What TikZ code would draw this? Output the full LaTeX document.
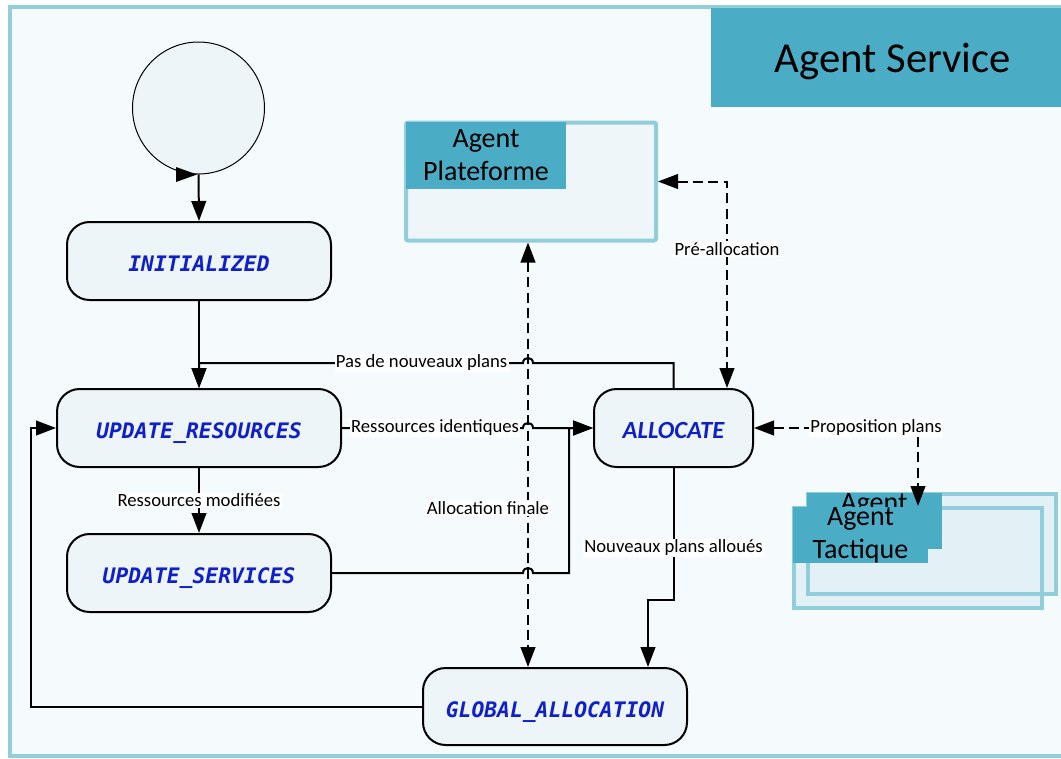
\documentclass[tikz,border=0pt]{standalone}
\usepackage{fontspec}
\setmainfont{Carlito}
\newfontfamily\statefont{DejaVu Sans Mono Bold Oblique}
\usetikzlibrary{arrows.meta}
\definecolor{framefill}{HTML}{F5FBFC}
\definecolor{framecol}{HTML}{92CDDC}
\definecolor{statefill}{HTML}{EEF5F9}
\definecolor{teal}{HTML}{4BACC6}
\definecolor{platfill}{HTML}{EEF6F9}
\definecolor{tacfill}{HTML}{E3F0F5}
\definecolor{stateblue}{HTML}{1020C8}
\begin{document}
\begin{tikzpicture}[x=0.75pt,y=-0.75pt,
  statebox/.style={draw=black,line width=1.5pt,fill=statefill,rounded corners=17pt,
    text=stateblue,font=\statefont\fontsize{16}{19}\selectfont,inner sep=0pt,
    minimum height=58.5pt,text height=16pt,text depth=0pt},
  conn/.style={draw=black,line width=1.5pt,-{Triangle[length=15pt,width=11pt]}},
  dconn/.style={draw=black,line width=1.5pt,dash pattern=on 7.5pt off 4pt,
    {Triangle[length=15pt,width=11pt]}-{Triangle[length=15pt,width=11pt]}},
  lbl/.style={fill=white,inner sep=1pt,text=black,font=\fontsize{14}{16}\selectfont},
  agentbox/.style={draw=framecol,line width=3pt,inner sep=0pt},
  header/.style={fill=teal,inner sep=0pt,text=black,align=center,
    font=\fontsize{21}{24.75}\selectfont},
]
\useasboundingbox (0,0) rectangle (1061,758);
\fill[white] (0,0) rectangle (1061,758);
% outer frame
\draw[framecol,line width=3pt,fill=framefill] (9.5,7) rectangle (1075,755.5);

% Agent Service
\node[fill=teal,minimum width=273pt,minimum height=74.25pt,inner sep=0pt,text depth=0pt,
  font=\fontsize{32}{38}\selectfont] (service) at (893,57.5) {Agent Service};

% start circle
\node[circle,draw=black,line width=0.75pt,fill=statefill,minimum size=99pt,inner sep=0pt] (start) at (198.5,108) {};
\fill (176,167) -- (197,174.5) -- (176,182) -- cycle;

% states
\node[statebox,minimum width=198pt] (init) at (199,261) {INITIALIZED};
\node[statebox,minimum width=213pt] (upres) at (199,428) {UPDATE\_RESOURCES};
\node[statebox,minimum width=198pt] (upserv) at (199,573) {UPDATE\_SERVICES};
\node[statebox,minimum width=119.25pt,font=\bfseries\itshape\fontsize{18.5}{22}\selectfont] (alloc) at (673.5,428) {ALLOCATE};
\node[statebox,minimum width=198pt,minimum height=57.75pt] (glob) at (555,706.5) {GLOBAL\_ALLOCATION};

% Agent Plateforme
\node[agentbox,fill=platfill,rounded corners=1.5pt,minimum width=187.5pt,minimum height=88.5pt] (plat) at (531,181.5) {};
\node[header,minimum width=120pt,minimum height=50.25pt] (plathead) at (486,155.5) {Agent\\Plateforme};

% Agent Tactique (two stacked boxes)
\fill[tacfill] (794,508) rectangle (1042,608);
\node[agentbox,fill=tacfill,minimum width=186pt,minimum height=75pt] (tacb) at (932,544) {};
\node[agentbox,minimum width=186pt,minimum height=75pt] (tacf) at (918,558) {};
\node[header,minimum width=101.25pt,minimum height=42pt] (tacbhead) at (874,521) {Agent\\\phantom{Tactique}};
\node[header,minimum width=101.25pt,minimum height=42pt] (tacfhead) at (860.5,535) {Agent\\Tactique};

% helper x positions
\coordinate (cx) at (528,0);
\coordinate (nx) at (648,0);
\coordinate (lx) at (31,0);
\coordinate (px) at (727,0);
\coordinate (sx) at (569,0);

% connectors
\draw[conn] (start.south) -- (init.north);
\draw[conn] (init.south) -- (upres.north);
\draw[conn] (alloc.north) |- (533,363) .. controls (533,356.3) and (523,356.3) .. (523,363)
  -- node[lbl,pos=0.313]{Pas de nouveaux plans} (upres.north |- 0,363) -- (upres.north);
\draw[conn] (upres.east) -- node[lbl,pos=0.514]{Ressources identiques} (523,428)
  .. controls (523,421.3) and (533,421.3) .. (533,428) -- (alloc.west);
\draw[conn] (upserv.east) -- (523,573) .. controls (523,566.3) and (533,566.3) .. (533,573)
  -- (sx |- upserv.east) -- (sx |- alloc.west) -- (alloc.west);
\draw[conn] (upres.south) -- node[lbl]{Ressources modifiées} (upserv.north);
\draw[conn] (alloc.south) -- node[lbl,pos=0.606]{Nouveaux plans alloués} (alloc.south |- 0,600)
  -| (nx |- glob.north);
\draw[conn] (glob.west) -| (lx |- upres.west) -- (upres.west);

% dashed message links
\draw[dconn] (cx |- plat.south) -- node[lbl,pos=0.626,xshift=-30pt]{Allocation finale} (cx |- glob.north);
\draw[dconn] (plat.east) -| node[lbl,pos=0.664]{Pré-allocation} (px |- alloc.north);
\draw[dconn] (alloc.east) -| node[lbl,pos=0.372]{Proposition plans} (tacf.north);
\end{tikzpicture}
\end{document}
